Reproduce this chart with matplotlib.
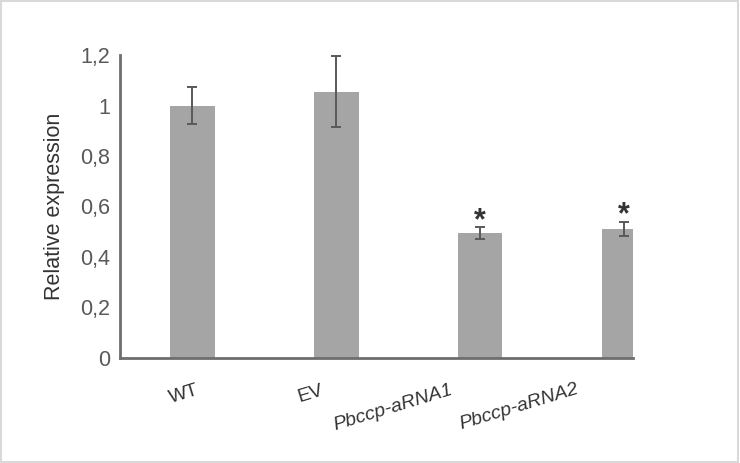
import matplotlib.pyplot as plt
import matplotlib.transforms as mtransforms
from matplotlib.patches import Rectangle

plt.rcParams['font.family'] = ['Liberation Sans', 'DejaVu Sans']

groups = ["WT", "EV", "Pbccp-aRNA1", "Pbccp-aRNA2"]
expression = [1.0, 1.055, 0.495, 0.512]
errors = [0.075, 0.14, 0.022, 0.027]
significant = [False, False, True, True]
y_ticks = [0, 0.2, 0.4, 0.6, 0.8, 1.0, 1.2]
y_tick_labels = ["0", "0,2", "0,4", "0,6", "0,8", "1", "1,2"]

fig = plt.figure(figsize=(7.4, 4.63), dpi=100)
ax = fig.add_axes([0.162, 0.227, 0.693, 0.654])

x = list(range(len(groups)))
ax.bar(x, expression, width=0.31, color="#a5a5a5", zorder=2)
ax.errorbar(x, expression, yerr=errors, fmt="none", ecolor="#595959",
            elinewidth=1.4, capsize=3.5, capthick=1.4, zorder=3)

# asterisks over the knock-down lines
for xi, v, e, s in zip(x, expression, errors, significant):
    if s:
        ax.text(xi, v + e - 0.035, "*", ha="center", va="bottom",
                fontsize=22, fontweight="bold", color="#333333")

ax.set_xlim(-0.503, 3.06)
ax.set_ylim(0, 1.2)
ax.set_yticks(y_ticks)
ax.set_yticklabels(y_tick_labels, fontsize=15.5, color="#595959")
ax.tick_params(axis="y", length=0, pad=7)
ax.tick_params(axis="x", length=0, pad=0)

ax.set_xticks(x)
ax.set_xticklabels(groups, fontsize=14, color="#333333", rotation=17,
                   ha="center", va="center", rotation_mode="anchor")
# Excel-style label placement (pixel shifts of each label centre)
offsets = [(-8, -36), (-26, -36), (-87, -50), (-105, -49)]
for lab, (dx, dy) in zip(ax.get_xticklabels(), offsets):
    if lab.get_text().startswith("Pbccp"):
        lab.set_style("italic")
    lab.set_transform(lab.get_transform() + mtransforms.ScaledTranslation(
        dx / 100, dy / 100, fig.dpi_scale_trans))

ax.set_ylabel("Relative expression", fontsize=15.5, color="#333333", labelpad=11)

for side in ["top", "right"]:
    ax.spines[side].set_visible(False)
for side in ["left", "bottom"]:
    ax.spines[side].set_color("#6e6e6e")
    ax.spines[side].set_linewidth(2)

fig.patches.append(Rectangle((0.001, 0.003), 0.996, 0.994, transform=fig.transFigure,
                             fill=False, edgecolor="#d9d9d9", linewidth=1.5))

fig.savefig("out.png", dpi=100)
